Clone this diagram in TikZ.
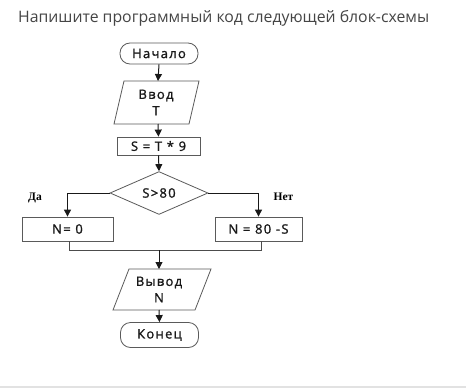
\documentclass[tikz,border=0pt]{standalone}
\usepackage{fontspec}
\setmainfont{Open Sans}
\newfontfamily\boxfont{Open Sans}[LetterSpace=10,FakeBold=1.2]
\newfontfamily\lblfont{Liberation Serif}
\usetikzlibrary{arrows.meta,shapes.geometric}
\definecolor{titlegray}{HTML}{454545}
\definecolor{boxgray}{HTML}{5A5A5A}
\definecolor{rulegray}{HTML}{E2E2E2}
\begin{document}
\begin{tikzpicture}[x=1pt,y=-1pt,
  every node/.style={inner sep=0pt},
  shp/.style={draw=boxgray, line width=0.8pt, font=\boxfont\fontsize{13}{14}\selectfont, text=black!90},
  term/.style={shp, rounded corners=10pt, minimum width=78pt, minimum height=21pt},
  proc/.style={shp, rectangle, minimum height=22pt},
  dec/.style={shp, diamond, minimum width=98pt, minimum height=40pt},
  iotext/.style={font=\boxfont\fontsize{13}{16.5}\selectfont, text=black!90, align=center},
  iobox/.style={draw=boxgray, line width=0.8pt},
  arr/.style={draw=black!90, line width=1pt, -{Triangle[length=7pt,width=7pt]}},
  ln/.style={draw=black!70, line width=0.8pt},
  lbl/.style={font=\lblfont\bfseries\fontsize{11.5}{13}\selectfont}
]
\useasboundingbox (0,0) rectangle (466,391);
\fill[white] (0,0) rectangle (466,391);
\node[anchor=base west, text=titlegray, font=\fontsize{15.8}{19}\selectfont] (title) at (18,22.7) {Напишите программный код следующей блок-схемы};
\draw[rulegray, line width=1.2pt] (0,387) -- (466,387);

\node[term] (start) at (159,53.5) {Начало};

\node[iotext] (vvod) at (156,102.5) {Ввод\\T};
\coordinate (vvodN) at (158,81);
\coordinate (vvodS) at (158,124);
\draw[iobox] (124,81) -- (199,81) -- (189,124) -- (114,124) -- cycle;

\node[proc, minimum width=83pt, minimum height=18pt] (calc) at (158.5,146) {S = T * 9};

\node[dec] (cond) at (159,193) {S>80};

\node[proc, minimum width=91pt, minimum height=24pt] (left) at (67.5,229) {N= 0};
\node[proc, minimum width=87pt, minimum height=24pt] (right) at (258.5,229) {N = 80 -S};

\node[lbl] (da) at (35,198) {Да};
\node[lbl] (net) at (283.5,197) {Нет};

\coordinate (merge) at (159,250);
\coordinate (mL) at (69,250);
\coordinate (mR) at (261,250);

\node[iotext] (vyvod) at (159,289.5) {Вывод\\N};
\coordinate (vyvodN) at (159,269);
\coordinate (vyvodS) at (159,310);
\draw[iobox] (129,269) -- (211,269) -- (195,310) -- (113,310) -- cycle;

\node[term, minimum height=25pt] (end) at (159.5,335) {Конец};

\draw[arr] (start.south) -- (vvodN);
\draw[arr] (vvodS) -- (calc.north);
\draw[arr] (calc.south) -- (cond.north);
\draw[arr] (cond.west) -| (left.north);
\draw[arr] (cond.east) -| (right.north);
\draw[ln] (left.south -| mL) -- (mL) -- (mR) -- (right.south -| mR);
\draw[arr] (merge) -- (vyvodN);
\draw[arr] (vyvodS) -- (end.north);
\end{tikzpicture}
\end{document}
